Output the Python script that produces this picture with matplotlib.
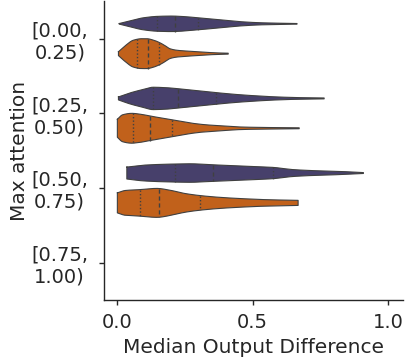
import numpy as np
import matplotlib
matplotlib.use("Agg")
import matplotlib.pyplot as plt

# Attention bins (y categories) and the two compared groups
categories = ["[0.00,\n0.25)", "[0.25,\n0.50)", "[0.50,\n0.75)", "[0.75,\n1.00)"]
group_colors = {"purple": "#47406b", "orange": "#c1611b"}

# Density profiles: x grid of median output difference and relative half width (1 = full slot)
purple_0_x = [0.008, 0.048, 0.096, 0.15, 0.20, 0.25, 0.30, 0.38, 0.465, 0.53, 0.60, 0.664]
purple_0_w = [0.02, 0.20, 0.40, 0.50, 0.52, 0.48, 0.40, 0.27, 0.13, 0.07, 0.04, 0.02]
purple_0_q = [0.146, 0.214, 0.300]

orange_0_x = [0.005, 0.03, 0.06, 0.09, 0.11, 0.135, 0.158, 0.18, 0.195, 0.22, 0.26, 0.32, 0.37, 0.41]
orange_0_w = [0.13, 0.53, 0.90, 1.00, 1.00, 0.90, 0.73, 0.50, 0.33, 0.23, 0.17, 0.10, 0.05, 0.03]
orange_0_q = [0.075, 0.113, 0.156]

purple_1_x = [0.005, 0.048, 0.096, 0.133, 0.18, 0.226, 0.29, 0.365, 0.43, 0.49, 0.59, 0.68, 0.764]
purple_1_w = [0.10, 0.37, 0.60, 0.75, 0.72, 0.65, 0.53, 0.39, 0.28, 0.20, 0.10, 0.05, 0.03]
purple_1_q = [0.134, 0.226, 0.365]

orange_1_x = [0.001, 0.02, 0.054, 0.09, 0.122, 0.16, 0.20, 0.24, 0.28, 0.33, 0.38, 0.465, 0.56, 0.672]
orange_1_w = [0.60, 0.90, 1.00, 0.93, 0.82, 0.70, 0.58, 0.45, 0.33, 0.23, 0.17, 0.08, 0.05, 0.03]
orange_1_q = [0.057, 0.122, 0.202]

purple_2_x = [0.036, 0.10, 0.20, 0.27, 0.355, 0.45, 0.574, 0.65, 0.74, 0.83, 0.909]
purple_2_w = [0.40, 0.53, 0.60, 0.62, 0.55, 0.48, 0.38, 0.23, 0.15, 0.10, 0.03]
purple_2_q = [0.212, 0.355, 0.574]

orange_2_x = [0.001, 0.03, 0.085, 0.146, 0.20, 0.25, 0.306, 0.38, 0.465, 0.56, 0.668]
orange_2_w = [0.67, 0.83, 0.89, 0.97, 0.83, 0.63, 0.49, 0.37, 0.28, 0.21, 0.17]
orange_2_q = [0.085, 0.156, 0.306]

violins = [
    (0, "purple", purple_0_x, purple_0_w, purple_0_q),
    (0, "orange", orange_0_x, orange_0_w, orange_0_q),
    (1, "purple", purple_1_x, purple_1_w, purple_1_q),
    (1, "orange", orange_1_x, orange_1_w, orange_1_q),
    (2, "purple", purple_2_x, purple_2_w, purple_2_q),
    (2, "orange", orange_2_x, orange_2_w, orange_2_q),
]


def pchip(x, y, xs):
    """Monotone piecewise cubic interpolation."""
    x = np.asarray(x, float)
    y = np.asarray(y, float)
    h = np.diff(x)
    delta = np.diff(y) / h
    d = np.zeros_like(y)
    d[0], d[-1] = delta[0], delta[-1]
    for k in range(1, len(x) - 1):
        if delta[k - 1] * delta[k] <= 0:
            d[k] = 0.0
        else:
            w1 = 2 * h[k] + h[k - 1]
            w2 = h[k] + 2 * h[k - 1]
            d[k] = (w1 + w2) / (w1 / delta[k - 1] + w2 / delta[k])
    idx = np.clip(np.searchsorted(x, xs) - 1, 0, len(x) - 2)
    t = (xs - x[idx]) / h[idx]
    h00 = 2 * t**3 - 3 * t**2 + 1
    h10 = t**3 - 2 * t**2 + t
    h01 = -2 * t**3 + 3 * t**2
    h11 = t**3 - t**2
    return h00 * y[idx] + h10 * h[idx] * d[idx] + h01 * y[idx + 1] + h11 * h[idx] * d[idx + 1]


fig = plt.figure(figsize=(4.05, 3.57), dpi=100)
ax = fig.add_axes([0.257, 0.16, 0.738, 0.836])

half_slot = 0.2
offsets = {"purple": -0.2, "orange": 0.2}
edge = "#404040"
text_color = "#262626"
fs = 14

for cat, group, xs_k, ws_k, quarts in violins:
    center = cat + offsets[group]
    xs = np.linspace(xs_k[0], xs_k[-1], 300)
    hw = np.clip(pchip(xs_k, ws_k, xs), 0, None) * half_slot
    ax.fill_between(xs, center - hw, center + hw, facecolor=group_colors[group],
                    edgecolor="none", zorder=2)
    outline_x = np.concatenate([xs, xs[::-1], xs[:1]])
    outline_y = np.concatenate([center - hw, (center + hw)[::-1], [center - hw[0]]])
    ax.plot(outline_x, outline_y, color=edge, lw=0.8, zorder=3)
    for i, q in enumerate(quarts):
        w = np.interp(q, xs, hw)
        ls = (0, (3, 2)) if i == 1 else (0, (1, 1.5))
        ax.plot([q, q], [center - w, center + w], color=edge, lw=1.0, ls=ls, zorder=4)

ax.set_xlim(-0.048, 1.055)
ax.set_ylim(3.5, -0.5)
ax.set_yticks(range(len(categories)))
ax.set_yticklabels(categories, fontsize=fs, color=text_color, ha="right",
                   multialignment="center")
ax.set_xticks([0.0, 0.5, 1.0])
ax.set_xticklabels(["0.0", "0.5", "1.0"], fontsize=fs, color=text_color)
ax.set_xlabel("Median Output Difference", fontsize=14.5, color=text_color, labelpad=4)
ax.set_ylabel("Max attention", fontsize=14.5, color=text_color)
ax.yaxis.set_label_coords(-0.252, 0.5)
ax.spines["top"].set_visible(False)
ax.spines["right"].set_visible(False)
for s in ("left", "bottom"):
    ax.spines[s].set_color(text_color)
    ax.spines[s].set_linewidth(1.0)
ax.tick_params(axis="both", length=3.5, width=1.0, color=text_color)
ax.tick_params(axis="y", pad=8)
ax.tick_params(axis="x", pad=6)

fig.savefig("out.png", dpi=100)
